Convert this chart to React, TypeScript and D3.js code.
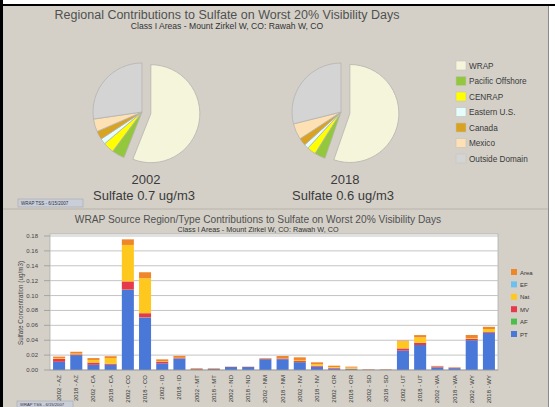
import React from "react";
import * as d3 from "d3";

// pie data (percent of sulfate by source region)
const regions = ["WRAP", "Pacific Offshore", "CENRAP", "Eastern U.S.", "Canada", "Mexico", "Outside Domain"];
const regionColors = ["#f5f5dc", "#94c83c", "#ffff00", "#e4fcfc", "#d9a220", "#fde0b4", "#d4d4d4"];
const pie2002 = [56.0, 4.2, 3.6, 1.9, 2.8, 4.2, 27.3];
const pie2018 = [55.3, 3.6, 2.9, 1.5, 2.5, 5.3, 28.9];
const pieYears = ["2002", "2018"];
const pieTotals = ["Sulfate 0.7 ug/m3", "Sulfate 0.6 ug/m3"];

// bar data (ug/m3) by state / year
const categories = [
  "2002 - AZ", "2018 - AZ", "2002 - CA", "2018 - CA", "2002 - CO", "2018 - CO",
  "2002 - ID", "2018 - ID", "2002 - MT", "2018 - MT", "2002 - ND", "2018 - ND",
  "2002 - NM", "2018 - NM", "2002 - NV", "2018 - NV", "2002 - OR", "2018 - OR",
  "2002 - SD", "2018 - SD", "2002 - UT", "2018 - UT", "2002 - WA", "2018 - WA",
  "2002 - WY", "2018 - WY",
];
const pt = [0.011, 0.02, 0.007, 0.007, 0.1075, 0.0705, 0.009, 0.0155, 0.001, 0.0013, 0.004, 0.004, 0.0145, 0.0145, 0.0105, 0.0045, 0.002, 0.0012, 0.0003, 0.0003, 0.026, 0.0336, 0.0035, 0.0025, 0.04, 0.05];
const af = [0, 0, 0, 0, 0.0005, 0.0003, 0, 0, 0, 0, 0, 0, 0, 0, 0, 0, 0, 0, 0, 0, 0, 0, 0, 0, 0, 0];
const mv = [0.004, 0.001, 0.003, 0.0015, 0.011, 0.0055, 0.002, 0.0005, 0.0003, 0.0002, 0.0002, 0.0002, 0.0003, 0.001, 0.0015, 0.0012, 0.001, 0.0005, 0.0002, 0.0001, 0.003, 0.003, 0.0012, 0.0005, 0.002, 0.001];
const nat = [0.001, 0.001, 0.0035, 0.0075, 0.049, 0.047, 0.0005, 0.0003, 0, 0, 0, 0, 0, 0.0003, 0.0015, 0.0022, 0.001, 0.0015, 0, 0, 0.0095, 0.0073, 0, 0, 0.001, 0.004];
const ef = [0, 0, 0, 0, 0, 0, 0, 0, 0, 0, 0, 0, 0, 0, 0, 0, 0, 0, 0, 0, 0, 0, 0, 0, 0, 0];
const area = [0.002, 0.0025, 0.0025, 0.0025, 0.0075, 0.008, 0.0028, 0.0027, 0.001, 0.0008, 0.0003, 0.0003, 0.001, 0.003, 0.0035, 0.0024, 0.0018, 0.0013, 0.0005, 0.0005, 0.001, 0.003, 0.0008, 0.0006, 0.004, 0.003];
const sourceTypes = ["PT", "AF", "MV", "Nat", "EF", "Area"];
const sourceColors = ["#4a78d8", "#4cbf4a", "#e63a4c", "#ffc81e", "#6cc0f0", "#f0862a"];
const yTicks = [0, 0.02, 0.04, 0.06, 0.08, 0.1, 0.12, 0.14, 0.16, 0.18];

const FONT = "'Liberation Sans', Arial, sans-serif";
const BG = "#d4d0c8";

const PieBlock = ({ values, cx, cy, year, total }: any) => {
  const r = 49;
  const arcs = d3.pie<number>().sort(null)(values);
  const arc = d3.arc<d3.PieArcDatum<number>>().innerRadius(0).outerRadius(r);
  return (
    <g>
      <g transform={`translate(${cx},${cy})`}>
        {arcs.map((a, i) => {
          const [x, y] = i === 0 ? arc.centroid(a) : [0, 0];
          const len = Math.hypot(x, y) || 1;
          const off = i === 0 ? 9 : 0;
          return (
            <path
              key={i}
              d={arc(a) || ""}
              transform={`translate(${(x / len) * off},${(y / len) * off})`}
              fill={regionColors[i]}
              stroke="#b4b4b0"
              strokeWidth={0.8}
            />
          );
        })}
      </g>
      <text x={cx + 4} y={184} textAnchor="middle" fontSize={13} fill="#3a3a3a">{year}</text>
      <text x={cx + 2} y={200} textAnchor="middle" fontSize={13} fill="#3a3a3a">{total}</text>
    </g>
  );
};

export default function App() {
  const plot = { left: 50, right: 498, top: 236, bottom: 370 };
  const x = d3.scaleBand().domain(categories).range([plot.left + 1, plot.right - 1]).paddingInner(0.3).paddingOuter(0.12);
  const y = d3.scaleLinear().domain([0, 0.18]).range([plot.bottom, plot.top]);
  const series = [pt, af, mv, nat, ef, area];
  const rows = categories.map((c, i) => {
    const o: any = { cat: c };
    sourceTypes.forEach((s, k) => (o[s] = series[k][i]));
    return o;
  });
  const stacked = d3.stack<any>().keys(sourceTypes)(rows);

  return (
    <svg width={555} height={407} style={{ position: "absolute", left: 0, top: 0 }} fontFamily={FONT}>
      <rect x={0} y={0} width={555} height={407} fill="#fff" />
      <rect x={3} y={6} width={545} height={401} fill={BG} />
      <rect x={0} y={0} width={3} height={407} fill="#000" />
      <rect x={0} y={4} width={555} height={2} fill="#000" />
      <line x1={548.5} y1={6} x2={548.5} y2={407} stroke="#8a8a8a" />

      {/* top panel */}
      <text x={227} y={19} textAnchor="middle" fontSize={12.5} fill="#505050">
        Regional Contributions to Sulfate on Worst 20% Visibility Days
      </text>
      <text x={227} y={29} textAnchor="middle" fontSize={8.6} fill="#333">
        Class I Areas - Mount Zirkel W, CO: Rawah W, CO
      </text>
      <PieBlock values={pie2002} cx={142} cy={112} year={pieYears[0]} total={pieTotals[0]} />
      <PieBlock values={pie2018} cx={341} cy={112} year={pieYears[1]} total={pieTotals[1]} />
      {regions.map((r, i) => (
        <g key={r} transform={`translate(456,${61 + i * 15.5})`}>
          <rect width={10} height={9} fill={regionColors[i]} stroke="#c4c4c0" strokeWidth={0.6} />
          <text x={13} y={7.5} fontSize={8.2} fill="#3a3a3a">{r}</text>
        </g>
      ))}
      <rect x={18} y={199} width={65} height={8} fill="#c9ced8" stroke="#9aa0aa" strokeWidth={0.5} />
      <text x={21} y={205} fontSize={4.5} fill="#334">WRAP TSS - 6/15/2007</text>
      <line x1={3} y1={209} x2={548} y2={209} stroke="#b8b4ac" />

      {/* bottom panel */}
      <text x={258} y={223} textAnchor="middle" fontSize={10.2} fill="#505050">
        WRAP Source Region/Type Contributions to Sulfate on Worst 20% Visibility Days
      </text>
      <text x={258} y={232} textAnchor="middle" fontSize={7.2} fill="#333">
        Class I Areas - Mount Zirkel W, CO: Rawah W, CO
      </text>
      <rect x={plot.left} y={plot.top - 2} width={plot.right - plot.left} height={plot.bottom - plot.top + 2} fill="#fff" stroke="#b0b0b0" strokeWidth={0.8} />
      {yTicks.map((t) => (
        <g key={t}>
          {t > 0 && <line x1={plot.left} x2={plot.right} y1={y(t)} y2={y(t)} stroke="#c4c4c4" strokeWidth={1} />}
          <line x1={44} x2={plot.left} y1={y(t)} y2={y(t)} stroke="#999" strokeWidth={0.8} />
          <text x={38} y={y(t) + 2} textAnchor="end" fontSize={6} fill="#444">{t.toFixed(2)}</text>
        </g>
      ))}
      <text transform={`translate(23,303) rotate(-90)`} textAnchor="middle" fontSize={6.3} fill="#444">
        Sulfate Concentration (ug/m3)
      </text>
      {stacked.map((s, k) => (
        <g key={s.key} fill={sourceColors[k]}>
          {s.map((d, i) => {
            const h = y(d[0]) - y(d[1]);
            if (h <= 0) return null;
            return <rect key={i} x={x(categories[i])} y={y(d[1])} width={x.bandwidth()} height={h} />;
          })}
        </g>
      ))}
      <line x1={plot.left} x2={plot.right} y1={plot.bottom} y2={plot.bottom} stroke="#999" strokeWidth={0.8} />
      {categories.map((c) => (
        <text
          key={c}
          transform={`translate(${(x(c) || 0) + x.bandwidth() / 2 + 2},375) rotate(-90)`}
          textAnchor="end"
          fontSize={6}
          fill="#333"
        >
          {c}
        </text>
      ))}
      {[...sourceTypes].reverse().map((s, i) => {
        const k = sourceTypes.length - 1 - i;
        return (
          <g key={s} transform={`translate(511,${269 + i * 12.4})`}>
            <rect width={6} height={6} fill={sourceColors[k]} />
            <text x={9} y={5.5} fontSize={6} fill="#333">{s}</text>
          </g>
        );
      })}
      <rect x={17} y={401} width={56} height={7} fill="#c9ced8" stroke="#9aa0aa" strokeWidth={0.5} />
      <text x={20} y={406} fontSize={4.2} fill="#334">WRAP TSS - 6/15/2007</text>
    </svg>
  );
}
